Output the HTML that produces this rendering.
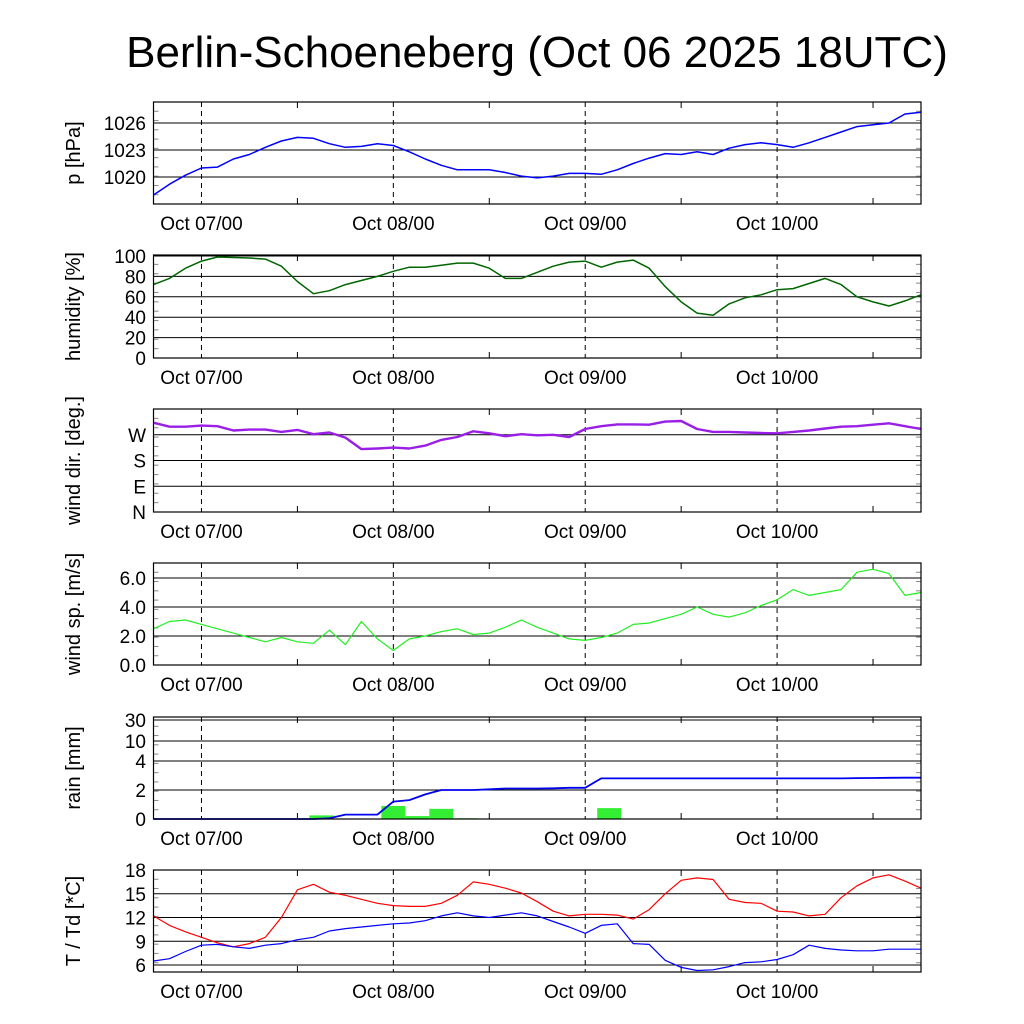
<!DOCTYPE html>
<html><head><meta charset="utf-8"><style>
html,body{margin:0;padding:0;background:#fff}
svg{display:block;font-family:"Liberation Sans",sans-serif}
</style></head><body>
<svg id="c" width="1024" height="1024" viewBox="0 0 1024 1024">
<text x="537" y="67" font-size="44" text-anchor="middle" fill="#000">Berlin-Schoeneberg (Oct 06 2025 18UTC)</text>
</svg>
<script>
const hours=[0,2,4,6,8,10,12,14,16,18,20,22,24,26,28,30,32,34,36,38,40,42,44,46,48,50,52,54,56,58,60,62,64,66,68,70,72,74,76,78,80,82,84,86,88,90,92,94,96];
const dayLabels=["Oct 07/00","Oct 08/00","Oct 09/00","Oct 10/00"];
const dayHours=[6,30,54,78];
const pressure=[1018,1019.2,1020.2,1021,1021.1,1022,1022.5,1023.3,1024,1024.4,1024.3,1023.7,1023.3,1023.4,1023.7,1023.5,1022.8,1022,1021.3,1020.8,1020.8,1020.8,1020.5,1020.1,1019.9,1020.1,1020.4,1020.4,1020.3,1020.8,1021.5,1022.1,1022.6,1022.5,1022.8,1022.5,1023.2,1023.6,1023.8,1023.6,1023.3,1023.8,1024.4,1025,1025.6,1025.8,1026,1027,1027.2];
const humidity=[72,78,88,95,99,98.5,98,97,90,75,63,66,72,76,80,85,89,89,91,93,93,88,78,78,84,90,94,95,89,94,96,88,70,55,44,42,53,59,62,67,68,73,78,72,60,55,51,56,62];
const windDir=[312,298,298,302,300,285,288,288,280,287,272,278,260,220,222,225,222,232,252,262,282,275,265,272,268,270,262,290,300,306,306,305,316,318,290,280,280,278,276,275,280,285,292,298,300,305,310,300,290];
const windSpeed=[2.5,3.0,3.1,2.8,2.5,2.2,1.9,1.6,1.9,1.6,1.5,2.4,1.4,3.0,1.8,1.0,1.8,2.0,2.3,2.5,2.1,2.2,2.6,3.1,2.6,2.2,1.8,1.7,1.9,2.2,2.8,2.9,3.2,3.5,4.0,3.5,3.3,3.6,4.1,4.5,5.2,4.8,5.0,5.2,6.4,6.6,6.3,4.8,5.0];
const rainCum=[0,0,0,0,0,0,0,0,0,0,0,0.05,0.3,0.3,0.3,1.2,1.3,1.7,2.0,2.0,2.0,2.05,2.1,2.1,2.1,2.12,2.15,2.15,2.8,2.8,2.8,2.8,2.8,2.8,2.8,2.8,2.8,2.8,2.8,2.8,2.8,2.8,2.8,2.8,2.82,2.83,2.84,2.85,2.85];
const rainBarStart=[19.5,28.5,31.5,34.5,37.5,43.5,46.5,55.5];
const rainBarValue=[0.25,0.9,0.2,0.7,0.05,0.03,0.03,0.75];
const tempT=[12.2,11,10.2,9.5,8.8,8.3,8.7,9.5,12,15.5,16.2,15.2,14.8,14.3,13.8,13.5,13.4,13.4,13.8,14.8,16.5,16.2,15.7,15.1,14,12.8,12.2,12.4,12.4,12.3,11.8,13,15,16.7,17,16.8,14.3,13.9,13.8,12.8,12.7,12.2,12.4,14.5,16,17,17.4,16.6,15.7];
const tempTd=[6.5,6.8,7.7,8.5,8.6,8.3,8.1,8.5,8.7,9.2,9.5,10.3,10.6,10.8,11.0,11.2,11.3,11.6,12.2,12.6,12.2,12.0,12.3,12.6,12.2,11.5,10.8,10.0,11.0,11.2,8.7,8.6,6.6,5.7,5.3,5.4,5.8,6.3,6.4,6.7,7.3,8.5,8.1,7.9,7.8,7.8,8.0,8.0,8.0];
const pTicks=[1020,1023,1026], hTicks=[0,20,40,60,80,100], dTicks=[0,90,180,270], dTickLabels=["N","E","S","W"];
const sTicks=[0,2,4,6], rTicks=[0,2,4,10,30], tTicks=[6,9,12,15,18];

const NS="http://www.w3.org/2000/svg", svg=document.getElementById('c');
const X0=153.5, X1=921, H0=0, H1=96;
function xs(h){return X0+(h-H0)/(H1-H0)*(X1-X0);}
function mk(tag,at,par){const e=document.createElementNS(NS,tag);for(const k in at)e.setAttribute(k,at[k]);(par||svg).appendChild(e);return e;}
function lin(v0,y0,v1,y1){return v=>y0+(v-v0)/(v1-v0)*(y1-y0);}
function rainY(v){const kv=[0,2,4,10,30],ky=[819,790,761,741,720];
 for(let i=0;i<kv.length-1;i++){if(v<=kv[i+1])return ky[i]+(v-kv[i])/(kv[i+1]-kv[i])*(ky[i+1]-ky[i]);}
 return 720-(v-30)*0.2;}
const panels=[
 {name:"pressure",top:102,bot:204,label:"p [hPa]",ys:lin(1020,177,1026,123),ticks:pTicks,tl:pTicks.map(String)},
 {name:"humidity",top:255,bot:358,label:"humidity [%]",ys:lin(0,358,100,256),ticks:hTicks,tl:hTicks.map(String)},
 {name:"wind-direction",top:409,bot:512,label:"wind dir. [deg.]",ys:lin(0,512,360,409),ticks:dTicks,tl:dTickLabels},
 {name:"wind-speed",top:563,bot:665,label:"wind sp. [m/s]",ys:lin(0,665,6,578),ticks:sTicks,tl:sTicks.map(v=>v.toFixed(1))},
 {name:"rain",top:717,bot:819,label:"rain [mm]",ys:rainY,ticks:rTicks,tl:rTicks.map(String)},
 {name:"temperature",top:870,bot:972,label:"T / Td [*C]",ys:lin(6,965,18,870),ticks:tTicks,tl:tTicks.map(String)}
];

function line(vals,ys,color,w,name,g){
 const d=hours.map((h,i)=>(i?'L':'M')+xs(h).toFixed(1)+','+ys(vals[i]).toFixed(1)).join('');
 const p=mk('path',{d:d,fill:'none',stroke:color,'stroke-width':w,'stroke-linejoin':'round'},g);
 
 
}
panels.forEach(P=>{
 const g=mk('g',{});
 
 
 P.ticks.forEach((t,i)=>{const y=P.ys(t);
  if(y>P.top+0.5&&y<P.bot-0.5) mk('line',{x1:X0,x2:X1,y1:y,y2:y,stroke:'#000','stroke-width':1},g);
  const tx=mk('text',{x:146,y:y+7,'font-size':19,'text-anchor':'end'},g);tx.textContent=P.tl[i];
  
  
 });
 const n=Math.round((P.bot-P.top)/9);
 for(let k=1;k<n;k++){const y=P.top+k*(P.bot-P.top)/n;
  mk('line',{x1:X0,x2:X0+5,y1:y,y2:y,stroke:'#888','stroke-width':1},g);
  mk('line',{x1:X1-5,x2:X1,y1:y,y2:y,stroke:'#888','stroke-width':1},g);}
 dayHours.forEach((h,i)=>{const x=xs(h);
  mk('line',{x1:x,x2:x,y1:P.top,y2:P.bot,stroke:'#000','stroke-width':1,'stroke-dasharray':'5,4'},g);
  const x2=xs(h+12);
  mk('line',{x1:x2,x2:x2,y1:P.bot-6,y2:P.bot,stroke:'#000','stroke-width':1},g);
  mk('line',{x1:x2,x2:x2,y1:P.top,y2:P.top+6,stroke:'#000','stroke-width':1},g);
  const t=mk('text',{x:x,y:P.bot+26,'font-size':19,'text-anchor':'middle'},g);t.textContent=dayLabels[i];
  
  
 });
 const yl=mk('text',{x:0,y:0,'font-size':20,'text-anchor':'middle',transform:`translate(80,${(P.top+P.bot)/2}) rotate(-90)`},g);
 yl.textContent=P.label;
 
 
 P.g=g;
});
const RP=panels[4];
rainBarStart.forEach((h,i)=>{const x=xs(h),w=xs(h+3)-x,y=rainY(rainBarValue[i]);
 const r=mk('rect',{x:x,y:y,width:w,height:819-y,fill:'#33ee33'},RP.g);
 
 
});
line(pressure,panels[0].ys,'#0000ff',1.5,'pressure-line',panels[0].g);
line(humidity,panels[1].ys,'#006600',1.5,'humidity-line',panels[1].g);
line(windDir,panels[2].ys,'#9a1fe6',2.4,'wind-direction-line',panels[2].g);
line(windSpeed,panels[3].ys,'#22ee22',1.2,'wind-speed-line',panels[3].g);
line(rainCum,rainY,'#0000ee',1.8,'rain-cumulative-line',RP.g);
line(tempT,panels[5].ys,'#ff0000',1.2,'temperature-line',panels[5].g);
line(tempTd,panels[5].ys,'#0000ff',1.2,'dewpoint-line',panels[5].g);
panels.forEach(P=>{
 const b=mk('rect',{x:X0,y:P.top,width:X1-X0,height:P.bot-P.top,fill:'none',stroke:'#000','stroke-width':1.2},P.g);
 
 
});
</script>
</body></html>
